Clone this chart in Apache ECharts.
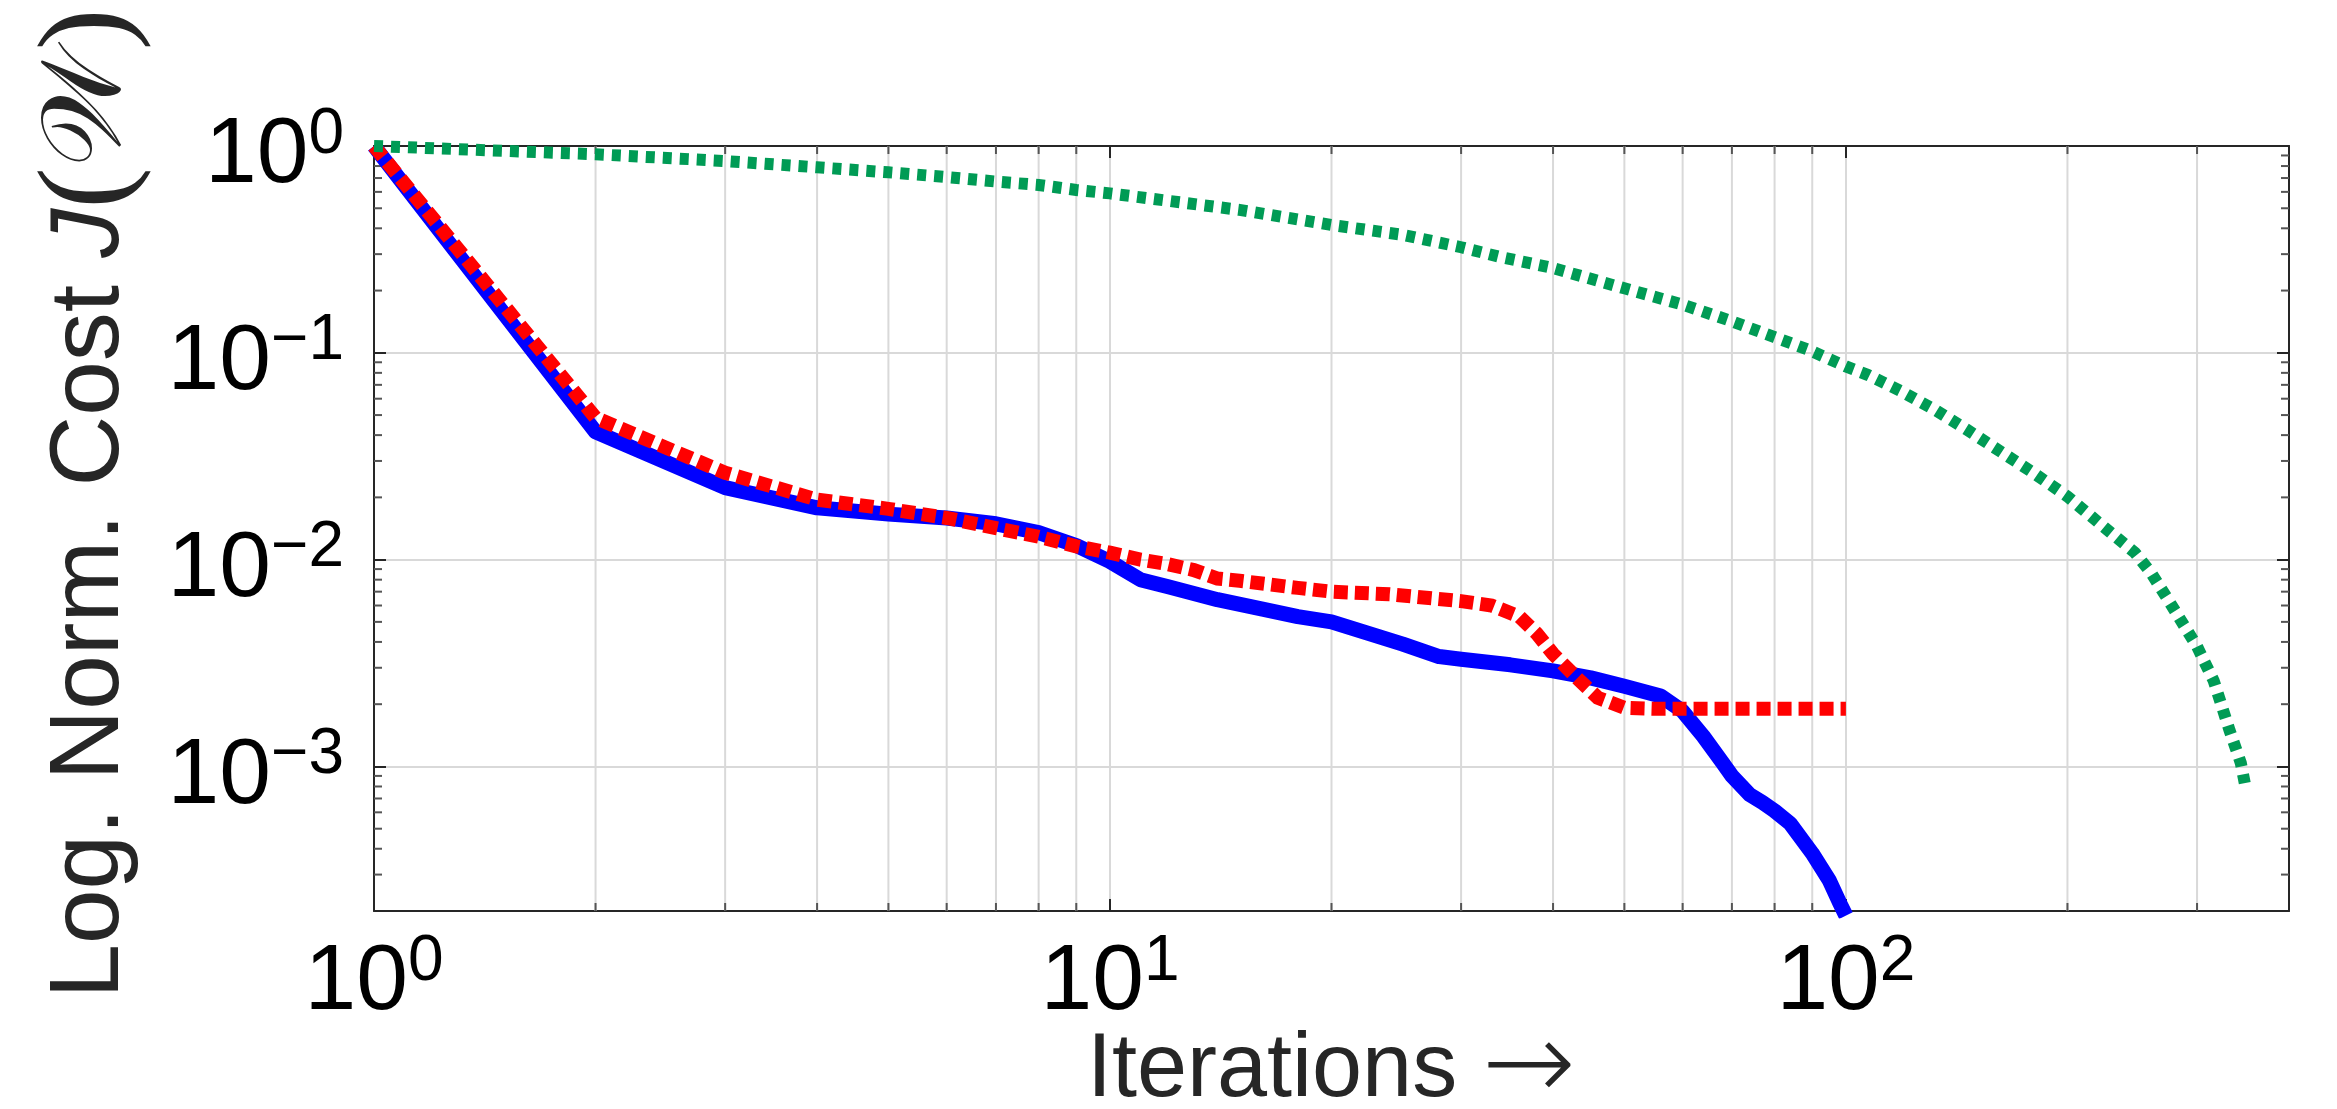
<!DOCTYPE html>
<html><head><meta charset="utf-8">
<script src="https://cdn.jsdelivr.net/npm/echarts@6/dist/echarts.min.js"></script>
<style>html,body{margin:0;padding:0;background:#fff}#c{width:2337px;height:1109px}</style>
</head><body><div id="c"></div>
<script>
// ---- data ----
const blueIter = [1,2,3,4,5,6,7,8,9,10,11,12,14,16,18,20,22,25,28,30,35,40,45,50,56,60,64,68,70,74,77,80,84,90,95,98,100];
const blueCost = [1,0.0415,0.0223,0.0178,0.0166,0.0159,0.0149,0.0135,0.0117,0.0098,0.0080,0.0074,0.0064,0.0058,0.0053,0.0050,0.0045,0.0039,0.0034,0.0033,0.0031,0.0029,0.00268,0.00244,0.00219,0.00185,0.0014,0.00104,0.0009,0.00073,0.00067,0.00061,0.00053,0.00038,0.00028,0.00022,0.00019];

const redIter = [1,2,3,4,5,6,7,8,9,10,11,12,13,14,15,18,20,24,30,33,36,38,40,43,46,50,55,60,70,80,90,100];
const redCost = [1,0.0485,0.0263,0.0195,0.0176,0.0159,0.0142,0.0129,0.0116,0.0108,0.0100,0.0095,0.0089,0.0081,0.0079,0.0073,0.0070,0.0068,0.0063,0.0060,0.0053,0.0044,0.0035,0.0027,0.00215,0.00192,0.0019,0.0019,0.0019,0.0019,0.0019,0.0019];

const greenIter = [1,2,3,4,5,6,7,8,9,10,15,20,25,30,34,40,50,60,70,80,89,100,107,119,132,146,162,180,200,222,247,260,274,300,316,332,344,349];
const greenCost = [1.0,0.912,0.846,0.789,0.746,0.708,0.673,0.648,0.613,0.590,0.491,0.415,0.372,0.324,0.29,0.257,0.205,0.171,0.142,0.119,0.1034,0.0859,0.0783,0.065,0.0531,0.0425,0.0334,0.0262,0.0202,0.0148,0.0108,0.0086,0.0064,0.0038,0.0026,0.0015,0.00104,0.0008];

const xMinorTicks = [2,3,4,5,6,7,8,9,20,30,40,50,60,70,80,90,200,300];
const yMinorTicks = [0.9,0.8,0.7,0.6,0.5,0.4,0.3,0.2,0.09,0.08,0.07,0.06,0.05,0.04,0.03,0.02,0.009,0.008,0.007,0.006,0.005,0.004,0.003,0.002,0.0009,0.0008,0.0007,0.0006,0.0005,0.0004,0.0003];

const X_MIN = 1, X_MAX = 400, Y_MIN = 2e-4, Y_MAX = 1;
const xTitleText = 'Iterations ';
const xTitleArrow = '\u2192';

// ---- chart ----
const zip = (a, b) => a.map((v, i) => [v, b[i]]);
const AX = '#262626', GRID = '#d9d9d9';
const tickFont = 'Liberation Sans Narrow, Liberation Sans, Arial, sans-serif';
const titleFont = 'Liberation Sans, Arial, sans-serif';

function powLabel(v) {
  const e = Math.log10(v), r = Math.round(e);
  if (Math.abs(e - r) > 1e-6) return '';
  return '{b|10}{s|' + (r < 0 ? '\u2212' + (-r) : String(r)) + '}';
}
const labelRich = {
  b: { fontSize: 93, fontFamily: tickFont, color: '#000', verticalAlign: 'bottom', lineHeight: 100 },
  s: { fontSize: 64, fontFamily: tickFont, color: '#000', verticalAlign: 'top', lineHeight: 54 }
};

const chart = echarts.init(document.getElementById('c'), null, { renderer: 'canvas' });
const baseAxis = (extra) => Object.assign({
  type: 'log', logBase: 10,
  nameMoveOverlap: false,
  axisLine: { show: true, onZero: false, lineStyle: { color: AX, width: 2 } },
  axisTick: { show: true, inside: true, length: 12, lineStyle: { color: AX, width: 2 } },
  minorTick: { show: false },
  minorSplitLine: { show: false }
}, extra);

chart.setOption({
  animation: false,
  backgroundColor: '#fff',
  grid: { left: 374, right: 48, top: 146, bottom: 198, containLabel: false, outerBoundsMode: 'none' },
  xAxis: [
    baseAxis({
      min: X_MIN, max: X_MAX, position: 'bottom',
      splitLine: { show: true, lineStyle: { color: GRID, width: 2 } },
      axisLabel: { show: true, margin: 5, padding: [14, 0, 0, 0], formatter: powLabel, rich: labelRich },
      name: '{t|' + xTitleText + '}{a|' + xTitleArrow + '}', nameLocation: 'middle', nameGap: 115,
      nameTextStyle: {
        color: AX, lineHeight: 90,
        rich: {
          t: { fontSize: 90, fontFamily: titleFont, color: AX },
          a: { fontSize: 112, fontFamily: 'DejaVu Sans ExtraLight, DejaVu Sans, sans-serif', fontWeight: 200, color: AX }
        }
      }
    }),
    baseAxis({
      min: X_MIN, max: X_MAX, position: 'top',
      splitLine: { show: false }, axisLabel: { show: false }
    })
  ],
  yAxis: [
    baseAxis({
      min: Y_MIN, max: Y_MAX, position: 'left',
      splitLine: { show: true, lineStyle: { color: GRID, width: 2 } },
      axisLabel: { show: true, margin: 30, padding: [14, 0, 0, 0], formatter: powLabel, rich: labelRich },
      name: '{a|Log. Norm. Cost }{j|J}{p|(}{w|\u{1D4B2}}{p|)}',
      nameLocation: 'middle', nameGap: 228, nameRotate: 90,
      nameTextStyle: {
        color: AX, lineHeight: 110, padding: [0, 0, 0, 50],
        rich: {
          a: { fontSize: 98, fontFamily: titleFont, color: AX },
          j: { fontSize: 98, fontFamily: titleFont, fontStyle: 'italic', color: AX },
          p: { fontSize: 125, fontFamily: 'Liberation Serif, serif', color: AX },
          w: { fontSize: 112, fontFamily: 'DejaVu Serif, DejaVu Sans, serif', color: AX }
        }
      }
    }),
    baseAxis({
      min: Y_MIN, max: Y_MAX, position: 'right',
      splitLine: { show: false }, axisLabel: { show: false }
    })
  ],
  series: [
    {
      type: 'custom', name: 'xminor', xAxisIndex: 0, yAxisIndex: 0, silent: true, z: 1, clip: false,
      data: xMinorTicks.map(v => [v, Y_MAX]),
      renderItem: (params, api) => {
        const cs = params.coordSys;
        const px = api.coord([api.value(0), Y_MAX])[0];
        const top = cs.y, bot = cs.y + cs.height;
        return { type: 'group', children: [
          { type: 'line', shape: { x1: px, y1: top, x2: px, y2: bot }, style: { stroke: GRID, lineWidth: 2 } },
          { type: 'line', shape: { x1: px, y1: bot, x2: px, y2: bot - 8 }, style: { stroke: '#555', lineWidth: 2 } },
          { type: 'line', shape: { x1: px, y1: top, x2: px, y2: top + 8 }, style: { stroke: '#555', lineWidth: 2 } }
        ]};
      }
    },
    {
      type: 'custom', name: 'yminor', xAxisIndex: 0, yAxisIndex: 0, silent: true, z: 1, clip: false,
      data: yMinorTicks.map(v => [X_MIN, v]),
      renderItem: (params, api) => {
        const cs = params.coordSys;
        const py = api.coord([X_MIN, api.value(1)])[1];
        const l = cs.x, r = cs.x + cs.width;
        return { type: 'group', children: [
          { type: 'line', shape: { x1: l, y1: py, x2: l + 8, y2: py }, style: { stroke: '#555', lineWidth: 2 } },
          { type: 'line', shape: { x1: r, y1: py, x2: r - 8, y2: py }, style: { stroke: '#555', lineWidth: 2 } }
        ]};
      }
    },
    {
      type: 'line', name: 'blue', data: zip(blueIter, blueCost), symbol: 'none', showSymbol: false, z: 3, clip: true,
      lineStyle: { color: '#0000ff', width: 15, type: 'solid', join: 'round', cap: 'butt' }
    },
    {
      type: 'line', name: 'red', data: zip(redIter, redCost), symbol: 'none', showSymbol: false, z: 4, clip: true,
      lineStyle: { color: '#ff0000', width: 14, type: [14, 7], cap: 'butt', join: 'miter' }
    },
    {
      type: 'line', name: 'green', data: zip(greenIter, greenCost), symbol: 'none', showSymbol: false, z: 5, clip: true,
      lineStyle: { color: '#009b55', width: 12, type: [9, 8], cap: 'butt', join: 'miter' }
    }
  ]
});
</script></body></html>
